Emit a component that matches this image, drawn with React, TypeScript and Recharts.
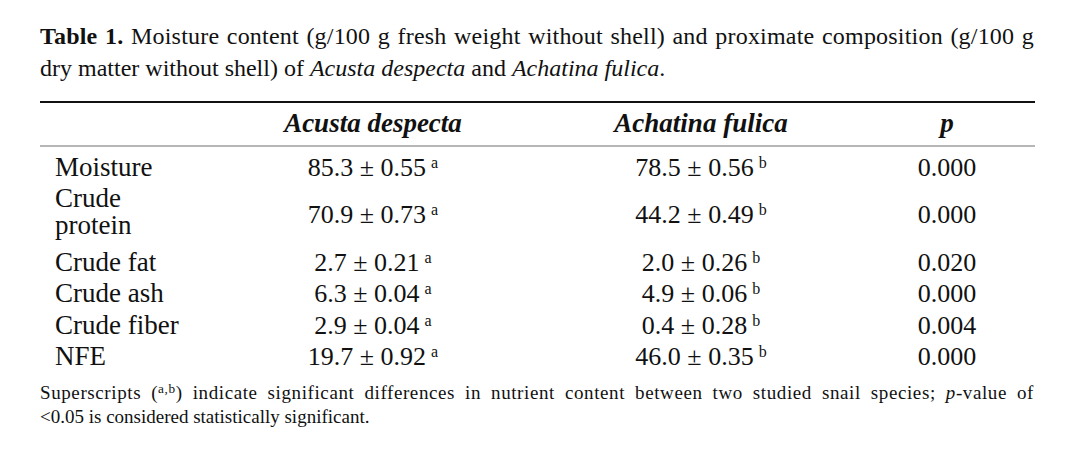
import { ScatterChart, Scatter, XAxis, YAxis } from "recharts";

// Table 1 – moisture and proximate composition of two snail species
const nutrients = ["Moisture", "Crude\nprotein", "Crude fat", "Crude ash", "Crude fiber", "NFE"];
const species = ["Acusta despecta", "Achatina fulica"];
const headers = ["", species[0], species[1], "p"];
const colSpans = [1, 2, 2, 1];

const acustaMean = [85.3, 70.9, 2.7, 6.3, 2.9, 19.7];
const acustaSd = [0.55, 0.73, 0.21, 0.04, 0.04, 0.92];
const acustaGroup = ["a", "a", "a", "a", "a", "a"];

const fulicaMean = [78.5, 44.2, 2.0, 4.9, 0.4, 46.0];
const fulicaSd = [0.56, 0.49, 0.26, 0.06, 0.28, 0.35];
const fulicaGroup = ["b", "b", "b", "b", "b", "b"];

const pValues = [0.0, 0.0, 0.02, 0.0, 0.004, 0.0];

const FONT = "'Liberation Serif', 'Times New Roman', serif";
const INK = "#111";

// column / row centres in "span" units, derived from the table structure
const colEdges = colSpans.reduce<number[]>((acc, s) => [...acc, acc[acc.length - 1] + s], [0]);
const totalCols = colEdges[colEdges.length - 1];
const colCenters = colSpans.map((s, i) => colEdges[i] + s / 2);

const rowLines = nutrients.map((n) => n.split("\n").length);
const rowEdges = rowLines.reduce<number[]>((acc, s) => [...acc, acc[acc.length - 1] + s], [0]);
const totalRows = rowEdges[rowEdges.length - 1];
const rowCenters = rowLines.map((s, i) => rowEdges[i] + s / 2);

const labelData = nutrients.map((n, i) => ({ x: 0, y: rowCenters[i], lines: n.split("\n") }));

const acustaData = nutrients.map((_, i) => ({
  x: colCenters[1],
  y: rowCenters[i],
  text: `${acustaMean[i].toFixed(1)} ± ${acustaSd[i].toFixed(2)}`,
  sup: acustaGroup[i],
}));

const fulicaData = nutrients.map((_, i) => ({
  x: colCenters[2],
  y: rowCenters[i],
  text: `${fulicaMean[i].toFixed(1)} ± ${fulicaSd[i].toFixed(2)}`,
  sup: fulicaGroup[i],
}));

const pData = nutrients.map((_, i) => ({
  x: colCenters[3],
  y: rowCenters[i],
  text: pValues[i].toFixed(3),
  sup: "",
}));

function CellText(props: any) {
  const { cx, cy, payload } = props;
  return (
    <text x={cx} y={cy + 9} textAnchor="middle" fontFamily={FONT} fontSize={26} fill={INK}>
      {payload.text}
      {payload.sup ? (
        <tspan dx={5} dy={-8} fontSize={16}>
          {payload.sup}
        </tspan>
      ) : null}
    </text>
  );
}

function RowLabel(props: any) {
  const { cx, cy, payload } = props;
  const lines: string[] = payload.lines;
  const first = lines.length > 1 ? cy - 7 : cy + 9;
  return (
    <text fontFamily={FONT} fontSize={27} fill={INK}>
      {lines.map((l, k) => (
        <tspan key={k} x={cx + 10} y={first + k * 27}>
          {l}
        </tspan>
      ))}
    </text>
  );
}

function HeaderTick(props: any) {
  const { x, y, payload } = props;
  const idx = colCenters.indexOf(payload.value);
  return (
    <text
      x={x}
      y={y - 14}
      textAnchor="middle"
      fontFamily={FONT}
      fontSize={27}
      fontWeight="bold"
      fontStyle="italic"
      fill={INK}
    >
      {headers[idx]}
    </text>
  );
}

export default function App() {
  return (
    <div
      style={{
        position: "absolute",
        left: 0,
        top: 0,
        width: 1080,
        height: 461,
        background: "#fff",
        overflow: "hidden",
        fontFamily: FONT,
        color: INK,
      }}
    >
      <ScatterChart
        width={1080}
        height={461}
        margin={{ top: 102, right: 45, bottom: 83, left: 40 }}
        style={{ position: "absolute", left: 0, top: 0 }}
      >
        <XAxis
          xAxisId="top"
          orientation="top"
          type="number"
          dataKey="x"
          domain={[0, totalCols]}
          ticks={colCenters.slice(1)}
          interval={0}
          height={44}
          tickSize={0}
          tickMargin={0}
          tickLine={false}
          axisLine={{ stroke: "#6e6e6e", strokeWidth: 1 }}
          padding={{ left: 5, right: 6 }}
          tick={(p: any) => <HeaderTick {...p} />}
        />
        <XAxis
          xAxisId="bottom"
          orientation="bottom"
          type="number"
          dataKey="x"
          domain={[0, totalCols]}
          height={0}
          tick={false}
          tickLine={false}
          axisLine={{ stroke: INK, strokeWidth: 2 }}
          padding={{ left: 5, right: 6 }}
        />
        <YAxis
          hide
          type="number"
          dataKey="y"
          domain={[0, totalRows]}
          reversed
          padding={{ top: 5, bottom: 6 }}
        />
        <Scatter xAxisId="top" data={labelData} shape={(p: any) => <RowLabel {...p} />} isAnimationActive={false} />
        <Scatter xAxisId="top" data={acustaData} shape={(p: any) => <CellText {...p} />} isAnimationActive={false} />
        <Scatter xAxisId="top" data={fulicaData} shape={(p: any) => <CellText {...p} />} isAnimationActive={false} />
        <Scatter xAxisId="top" data={pData} shape={(p: any) => <CellText {...p} />} isAnimationActive={false} />
      </ScatterChart>

      {/* caption */}
      <div
        style={{
          position: "absolute",
          left: 40,
          top: 20.4,
          width: 994,
          fontSize: 24,
          lineHeight: "32px",
        }}
      >
        <div style={{ textAlign: "justify", textAlignLast: "justify", letterSpacing: "0.2px" }}>
          <b>Table 1.</b> Moisture content (g/100 g fresh weight without shell) and proximate composition (g/100 g
        </div>
        <div>
          dry matter without shell) of <i>{species[0]}</i> and <i>{species[1]}</i>.
        </div>
      </div>

      {/* top rule */}
      <div style={{ position: "absolute", left: 40, top: 101, width: 995, height: 2, background: INK }} />

      {/* footnote */}
      <div
        style={{
          position: "absolute",
          left: 40,
          top: 381.6,
          width: 994,
          fontSize: 19,
          lineHeight: "22px",
        }}
      >
        <div style={{ textAlign: "justify", textAlignLast: "justify", letterSpacing: "0.6px" }}>
          Superscripts (
          <span style={{ fontSize: "0.7em", position: "relative", top: "-0.45em" }}>a,b</span>) indicate
          significant differences in nutrient content between two studied snail species; <i>p</i>-value of
        </div>
        <div>&lt;0.05 is considered statistically significant.</div>
      </div>
    </div>
  );
}
